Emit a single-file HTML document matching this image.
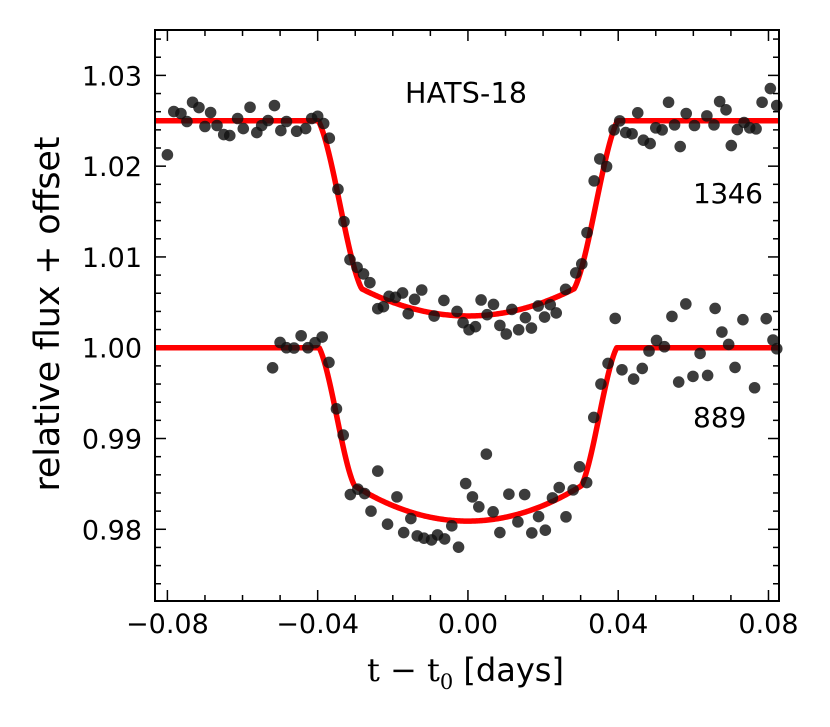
<!DOCTYPE html>
<html><head><meta charset="utf-8"><style>
body{margin:0;background:#fff;}
svg{display:block;font-family:"DejaVu Sans","Liberation Sans",sans-serif;}
</style></head><body>
<svg id="chart" width="830" height="727" viewBox="0 0 830 727">
<g id="ticks"></g>
<g id="curves"></g>
<g id="pts"></g>
<rect x="155" y="30" width="624" height="571" fill="none" stroke="#000" stroke-width="2"/>
<text x="405" y="103" font-size="28.5" textLength="122">HATS-18</text>
<text x="693" y="203" font-size="28" textLength="70">1346</text>
<text x="693" y="427" font-size="28">889</text>
<text transform="translate(59,314) rotate(-90)" font-size="35" text-anchor="middle" textLength="355">relative flux + offset</text>
<text x="367" y="681" font-size="32"><tspan font-family="DejaVu Serif,serif">t − t</tspan><tspan font-family="DejaVu Serif,serif" font-size="21" dy="8">0</tspan><tspan dy="-8"> [days]</tspan></text>
</svg>
<script>
const xTicks=[-0.08,-0.04,0.00,0.04,0.08];
const xTickLabels=["−0.08","−0.04","0.00","0.04","0.08"];
const yTicks=[0.98,0.99,1.00,1.01,1.02,1.03];
const yTickLabels=["0.98","0.99","1.00","1.01","1.02","1.03"];
const t1346=[-0.0800,-0.0783,-0.0764,-0.0748,-0.0733,-0.0716,-0.0700,-0.0685,-0.0668,-0.0650,-0.0634,-0.0613,-0.0598,-0.0580,-0.0562,-0.0549,-0.0532,-0.0515,-0.0498,-0.0483,-0.0456,-0.0432,-0.0416,-0.0400,-0.0384,-0.0369,-0.0346,-0.0330,-0.0314,-0.0295,-0.0278,-0.0261,-0.0240,-0.0225,-0.0210,-0.0193,-0.0174,-0.0159,-0.0142,-0.0123,-0.0090,-0.0064,-0.0029,-0.0013,0.0003,0.0020,0.0035,0.0051,0.0068,0.0085,0.0102,0.0117,0.0135,0.0153,0.0169,0.0187,0.0204,0.0219,0.0235,0.0260,0.0287,0.0303,0.0317,0.0336,0.0351,0.0369,0.0389,0.0404,0.0420,0.0437,0.0452,0.0467,0.0485,0.0500,0.0517,0.0534,0.0550,0.0565,0.0581,0.0603,0.0636,0.0655,0.0670,0.0687,0.0701,0.0717,0.0735,0.0750,0.0767,0.0783,0.0805,0.0822];
const f1346=[1.02125,1.02602,1.02580,1.02492,1.02704,1.02646,1.02437,1.02591,1.02448,1.02348,1.02337,1.02525,1.02414,1.02649,1.02370,1.02448,1.02503,1.02668,1.02392,1.02492,1.02385,1.02414,1.02525,1.02550,1.02470,1.02308,1.01745,1.01389,1.00970,1.00885,1.00813,1.00717,1.00430,1.00452,1.00566,1.00555,1.00603,1.00375,1.00533,1.00636,1.00349,1.00521,1.00400,1.00276,1.00198,1.00232,1.00526,1.00364,1.00477,1.00246,1.00151,1.00422,1.00198,1.00331,1.00217,1.00460,1.00338,1.00474,1.00383,1.00643,1.00824,1.00923,1.01268,1.01838,1.02080,1.01996,1.02400,1.02499,1.02370,1.02356,1.02588,1.02286,1.02249,1.02422,1.02400,1.02704,1.02455,1.02216,1.02580,1.02448,1.02554,1.02455,1.02712,1.02621,1.02227,1.02403,1.02481,1.02422,1.02411,1.02704,1.02855,1.02668];
const t889=[-0.0520,-0.0500,-0.0483,-0.0463,-0.0444,-0.0426,-0.0407,-0.0388,-0.0370,-0.0350,-0.0332,-0.0313,-0.0293,-0.0275,-0.0258,-0.0240,-0.0214,-0.0189,-0.0171,-0.0152,-0.0135,-0.0117,-0.0097,-0.0081,-0.0062,-0.0043,-0.0025,-0.0006,0.0012,0.0029,0.0049,0.0067,0.0085,0.0109,0.0133,0.0151,0.0170,0.0188,0.0206,0.0225,0.0243,0.0261,0.0280,0.0297,0.0316,0.0335,0.0354,0.0373,0.0392,0.0410,0.0441,0.0464,0.0482,0.0502,0.0523,0.0543,0.0561,0.0580,0.0599,0.0618,0.0638,0.0658,0.0676,0.0694,0.0711,0.0732,0.0763,0.0794,0.0812,0.0822];
const f889=[0.99779,1.00058,1.00000,0.99997,1.00132,1.00000,1.00055,1.00118,0.99838,0.99327,0.99038,0.98383,0.98442,0.98394,0.98200,0.98641,0.98056,0.98357,0.97964,0.98118,0.97927,0.97902,0.97883,0.97938,0.97894,0.98038,0.97803,0.98504,0.98357,0.98247,0.98828,0.98192,0.97964,0.98387,0.98082,0.98383,0.97960,0.98140,0.97990,0.98346,0.98460,0.98137,0.98434,0.98688,0.98515,0.99232,0.99600,0.99827,1.00323,0.99757,0.99655,0.99772,0.99964,1.00080,1.00011,1.00345,0.99622,1.00482,0.99684,0.99937,0.99695,1.00433,1.00173,1.00036,0.99783,1.00309,0.99559,1.00320,1.00085,0.99989];
// model parameters: [baseline, center flux, flux at full-depth edge, t1, t2]
const model1346=[1.025,1.0035,1.0065,0.0398,0.0283];
const model889=[1.000,0.9809,0.9848,0.0396,0.0302];

const X0=155,X1=779,Y0=30,Y1=601,xmin=-0.0833,xmax=0.0828,ymin=0.9721,ymax=1.0350;
const xs=t=>X0+(t-xmin)/(xmax-xmin)*(X1-X0);
const ys=f=>Y1-(f-ymin)/(ymax-ymin)*(Y1-Y0);
const NS="http://www.w3.org/2000/svg";
function mk(tag,attrs,parent){const e=document.createElementNS(NS,tag);for(const k in attrs)e.setAttribute(k,attrs[k]);parent.appendChild(e);return e;}
const tk=document.getElementById('ticks');
for(let i=-8;i<=8;i++){const t=i*0.01;const x=xs(t);const maj=(i%4===0);const L=maj?11:6;
 let a=mk('line',{x1:x,x2:x,y1:Y1,y2:Y1-L,stroke:'#000','stroke-width':1.5},tk);
 
 let b=mk('line',{x1:x,x2:x,y1:Y0,y2:Y0+L,stroke:'#000','stroke-width':1.5},tk);
 }
for(let i=486;i<=517;i++){const f=i*0.002;if(f<ymin||f>ymax)continue;const y=ys(f);const maj=(i%5===0);const L=maj?11:6;
 let a=mk('line',{x1:X0,x2:X0+L,y1:y,y2:y,stroke:'#000','stroke-width':1.5},tk);
 
 let b=mk('line',{x1:X1,x2:X1-L,y1:y,y2:y,stroke:'#000','stroke-width':1.5},tk);
 }
xTicks.forEach((t,i)=>{const e=mk('text',{x:xs(t),y:633,'font-size':27,'text-anchor':'middle'},tk);e.textContent=xTickLabels[i];
 });
yTicks.forEach((f,i)=>{const e=mk('text',{x:142,y:ys(f)+10,'font-size':27,'text-anchor':'end'},tk);e.textContent=yTickLabels[i];
 });
function modelFlux(m,t){const [b,c,e,t1,t2]=m;const a=Math.abs(t);
 if(a>=t1)return b;
 if(a<=t2){const r=a/t2;return c+(e-c)*r*r;}
 const s=(t1-a)/(t1-t2);const w=0.5*s+0.5*(3*s*s-2*s*s*s);return b-(b-e)*w;}
const cg=document.getElementById('curves');
[[model1346,'model-curve-1346'],[model889,'model-curve-889']].forEach(([m,n])=>{
 let d='';for(let i=0;i<=600;i++){const t=xmin+(xmax-xmin)*i/600;d+=(i?'L':'M')+xs(t).toFixed(2)+' '+ys(modelFlux(m,t)).toFixed(2);}
 const p=mk('path',{d:d,fill:'none',stroke:'#ff0000','stroke-width':5.5,'stroke-linejoin':'round'},cg);
 });
const pg=document.getElementById('pts');
t1346.forEach((t,i)=>{const c=mk('circle',{cx:xs(t),cy:ys(f1346[i]),r:5.8,fill:'#111','fill-opacity':0.82},pg);
 });
t889.forEach((t,i)=>{const c=mk('circle',{cx:xs(t),cy:ys(f889[i]),r:5.8,fill:'#111','fill-opacity':0.82},pg);
 });
</script>
</body></html>
